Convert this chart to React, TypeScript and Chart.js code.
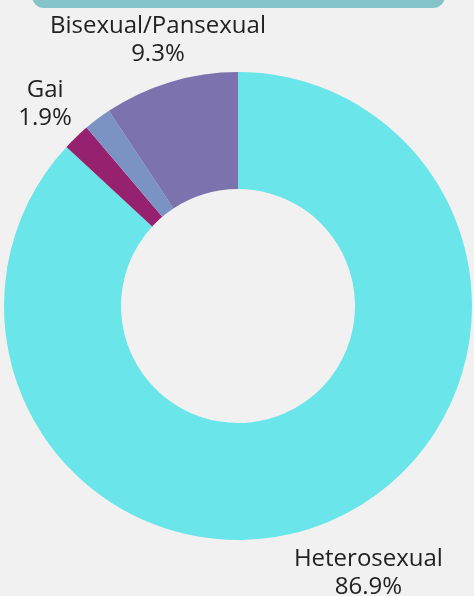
import React, { useEffect, useRef } from "react";
import { Chart, registerables } from "chart.js";

Chart.register(...registerables);

const categories = ["Heterosexual", "Gai", "Lesbiana", "Bisexual/Pansexual"];
const values = [86.9, 1.9, 1.9, 9.3];
const showLabel = [true, true, false, true];
const colors = ["#6ae5e9", "#96226f", "#7b93c3", "#7b72ae"];
const labelDistance = [57, 45, 45, 44];
const labelShiftX = [14, 0, 0, 0];
const FONT = '400 24px "Open Sans"';

const labelPlugin = {
  id: "outerLabels",
  afterDatasetsDraw(chart: any) {
    const ctx = chart.ctx;
    const meta = chart.getDatasetMeta(0);
    ctx.save();
    ctx.font = FONT;
    ctx.fillStyle = "#222222";
    ctx.textAlign = "center";
    ctx.textBaseline = "middle";
    meta.data.forEach((arc: any, i: number) => {
      if (!showLabel[i]) return;
      const mid = (arc.startAngle + arc.endAngle) / 2;
      const r = arc.outerRadius + labelDistance[i];
      const x = arc.x + Math.cos(mid) * r + labelShiftX[i];
      const y = arc.y + Math.sin(mid) * r;
      ctx.fillText(categories[i], x, y - 14);
      ctx.fillText(values[i].toFixed(1) + "%", x, y + 14);
    });
    ctx.restore();
  },
};

export default function App() {
  const ref = useRef<HTMLCanvasElement>(null);
  useEffect(() => {
    document.body.style.margin = "0";
    let chart: Chart | null = null;
    let cancelled = false;
    const make = () => {
      if (cancelled || !ref.current) return;
      chart = new Chart(ref.current, {
        type: "doughnut",
        data: {
          labels: categories,
          datasets: [
            {
              data: values,
              backgroundColor: colors,
              borderWidth: 0,
            },
          ],
        },
        options: {
          animation: false,
          responsive: false,
          cutout: "50%",
          layout: { padding: { left: 4, right: 2, top: 72, bottom: 56 } },
          plugins: { legend: { display: false }, tooltip: { enabled: false }, title: { display: false } },
        },
        plugins: [labelPlugin],
      });
    };
    const fonts: any = (document as any).fonts;
    if (fonts && fonts.load) {
      fonts.load(FONT).then(make, make);
    } else {
      make();
    }
    return () => {
      cancelled = true;
      if (chart) chart.destroy();
    };
  }, []);
  return (
    <div style={{ position: "relative", width: 474, height: 596, background: "#f1f1f1", overflow: "hidden" }}>
      <div
        style={{
          position: "absolute",
          left: 32,
          top: -30,
          width: 413,
          height: 38,
          background: "#85c3cb",
          borderRadius: 12,
        }}
      />
      <canvas ref={ref} width={474} height={596} style={{ position: "absolute", left: 0, top: 0 }} />
    </div>
  );
}
